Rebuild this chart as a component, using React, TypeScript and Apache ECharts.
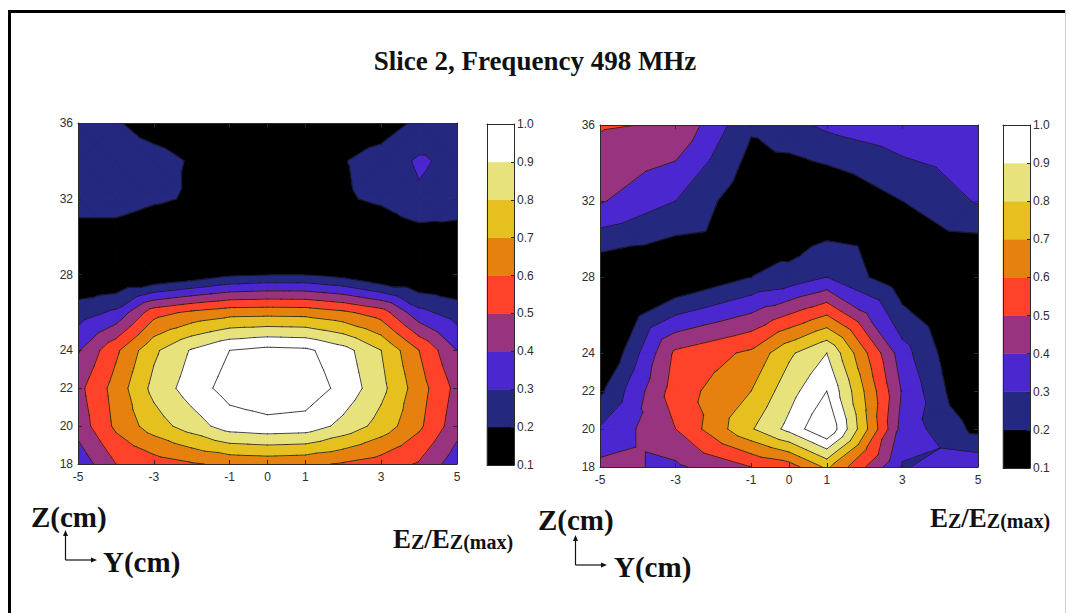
import React, { useEffect, useRef } from "react";
import * as echarts from "echarts";

// ---------------- data ----------------
// contour levels (colour-bar boundaries) and band colours (from lowest band up)
const LEVELS = [0.1, 0.2, 0.3, 0.4, 0.5, 0.6, 0.7, 0.8, 0.9, 1.0];
const BAND_COLORS = [
  "#000000",
  "#25287f",
  "#4a27cf",
  "#98347f",
  "#ff4229",
  "#e6800e",
  "#e5c01f",
  "#e8e27c",
  "#ffffff",
];

// tick labels of the two contour plots
const Y_CM_TICKS = [-5, -3, -1, 0, 1, 3, 5];
const Z_CM_TICKS = [18, 20, 22, 24, 28, 32, 36];

// left plot: Ez/Ez(max) on a Y(cm) x Z(cm) grid (rows = Z, columns = Y)
const LEFT_Y_CM = [-5, -4, -3, -2, -1, 0, 1, 2, 3, 4, 5];
const LEFT_Z_CM = [18, 20, 22, 24, 26, 28, 30, 32, 34, 36];
const LEFT_EZ = [
  [0.33, 0.5, 0.55, 0.59, 0.62, 0.63, 0.62, 0.59, 0.55, 0.49, 0.34],
  [0.44, 0.62, 0.75, 0.85, 0.95, 0.97, 0.96, 0.87, 0.76, 0.62, 0.44],
  [0.47, 0.64, 0.83, 0.95, 1.04, 1.07, 1.06, 0.97, 0.83, 0.645, 0.47],
  [0.39, 0.58, 0.78, 0.91, 1.0, 1.03, 1.02, 0.94, 0.8, 0.6, 0.4],
  [0.25, 0.32, 0.56, 0.62, 0.66, 0.665, 0.66, 0.62, 0.55, 0.33, 0.25],
  [0.1, 0.08, 0.07, 0.12, 0.18, 0.2, 0.2, 0.16, 0.08, 0.08, 0.1],
  [0.16, 0.15, 0.12, 0.12, 0.11, 0.11, 0.11, 0.12, 0.13, 0.15, 0.16],
  [0.24, 0.25, 0.215, 0.19, 0.13, 0.11, 0.14, 0.19, 0.215, 0.285, 0.25],
  [0.26, 0.26, 0.24, 0.19, 0.13, 0.11, 0.13, 0.195, 0.24, 0.315, 0.27],
  [0.25, 0.21, 0.15, 0.13, 0.11, 0.11, 0.12, 0.14, 0.15, 0.22, 0.26],
];

// right plot: measured grid
const RIGHT_Y_CM = [-5, -3, -1, 0, 1, 3, 5];
const RIGHT_Z_CM = [18, 20, 22, 24, 28, 32, 36];
const RIGHT_EZ = [
  [0.43, 0.38, 0.5, 0.55, 0.72, 0.29, 0.38],
  [0.31, 0.5, 0.79, 0.93, 1.1, 0.36, 0.17],
  [0.18, 0.55, 0.7, 0.86, 1.0, 0.39, 0.06],
  [0.06, 0.52, 0.62, 0.78, 0.9, 0.34, 0.04],
  [0.1, 0.08, 0.2, 0.23, 0.3, 0.12, 0.05],
  [0.41, 0.3, 0.12, 0.08, 0.09, 0.2, 0.31],
  [0.51, 0.49, 0.215, 0.27, 0.32, 0.37, 0.37],
];

// ---------------- helpers ----------------
type P = { x: number; y: number; v: number };

function clipPoly(poly: P[], level: number, above: boolean): P[] {
  const out: P[] = [];
  for (let i = 0; i < poly.length; i++) {
    const p = poly[i];
    const q = poly[(i + 1) % poly.length];
    const pin = above ? p.v >= level : p.v <= level;
    const qin = above ? q.v >= level : q.v <= level;
    if (pin) out.push(p);
    if (pin !== qin) {
      const t = (level - p.v) / (q.v - p.v);
      out.push({ x: p.x + t * (q.x - p.x), y: p.y + t * (q.y - p.y), v: level });
    }
  }
  return out;
}

function cellsOf(xs: number[], ys: number[]) {
  const out: number[][] = [];
  for (let j = 0; j < ys.length - 1; j++)
    for (let i = 0; i < xs.length - 1; i++)
      out.push([(xs[i] + xs[i + 1]) / 2, (ys[j] + ys[j + 1]) / 2, i, j]);
  return out;
}

function cellTriangles(api: any, xs: number[], ys: number[], zs: number[][]) {
  const i = api.value(2);
  const j = api.value(3);
  const c = (a: number, b: number): P => {
    const p = api.coord([xs[a], ys[b]]);
    return { x: p[0], y: p[1], v: zs[b][a] };
  };
  const p00 = c(i, j);
  const p10 = c(i + 1, j);
  const p11 = c(i + 1, j + 1);
  const p01 = c(i, j + 1);
  const pc: P = {
    x: (p00.x + p11.x) / 2,
    y: (p00.y + p11.y) / 2,
    v: (p00.v + p10.v + p11.v + p01.v) / 4,
  };
  return [
    [p00, p10, pc],
    [p10, p11, pc],
    [p11, p01, pc],
    [p01, p00, pc],
  ];
}

function fillRenderer(xs: number[], ys: number[], zs: number[][]) {
  return (_params: any, api: any) => {
    const tris = cellTriangles(api, xs, ys, zs);
    const children: any[] = [];
    const nb = BAND_COLORS.length;
    for (const t of tris) {
      for (let k = 0; k < nb; k++) {
        let poly: P[] = t;
        if (k > 0) poly = clipPoly(poly, LEVELS[k], true);
        if (poly.length >= 3 && k < nb - 1) poly = clipPoly(poly, LEVELS[k + 1], false);
        if (poly.length >= 3) {
          children.push({
            type: "polygon",
            shape: { points: poly.map((p) => [p.x, p.y]) },
            style: { fill: BAND_COLORS[k], stroke: BAND_COLORS[k], lineWidth: 1.2, lineJoin: "round" },
          });
        }
      }
    }
    return { type: "group", children };
  };
}

function lineRenderer(xs: number[], ys: number[], zs: number[][]) {
  const lineLevels = LEVELS.slice(1);
  return (_params: any, api: any) => {
    const tris = cellTriangles(api, xs, ys, zs);
    const children: any[] = [];
    for (const t of tris) {
      for (const L of lineLevels) {
        const pts: number[][] = [];
        for (let e = 0; e < 3; e++) {
          const a = t[e];
          const b = t[(e + 1) % 3];
          if (a.v >= L !== b.v >= L) {
            const s = (L - a.v) / (b.v - a.v);
            pts.push([a.x + s * (b.x - a.x), a.y + s * (b.y - a.y)]);
          }
        }
        if (pts.length === 2) {
          children.push({
            type: "line",
            shape: { x1: pts[0][0], y1: pts[0][1], x2: pts[1][0], y2: pts[1][1] },
            style: { stroke: "#141414", lineWidth: 0.8, lineCap: "round" },
          });
        }
      }
    }
    return { type: "group", children };
  };
}

const BANDS = BAND_COLORS.map((_, k) => [0.5, (LEVELS[k] + LEVELS[k + 1]) / 2, LEVELS[k], LEVELS[k + 1], k]);

function colorbarRenderer(_params: any, api: any) {
  const a = api.coord([0, api.value(2)]);
  const b = api.coord([1, api.value(3)]);
  const col = BAND_COLORS[api.value(4)];
  return {
    type: "rect",
    shape: { x: a[0], y: b[1], width: b[0] - a[0], height: a[1] - b[1] },
    style: { fill: col, stroke: col, lineWidth: 0.5 },
  };
}

// ---------------- axes ----------------
const AXIS_COLOR = "#2a2a2a";
const LABEL_STYLE = { fontFamily: "Liberation Sans, Arial, sans-serif", fontSize: 12, color: "#2e2e2e" };

function tick(values: number[] | null, len = 4) {
  return values
    ? { show: true, inside: true, length: len, customValues: values, lineStyle: { color: AXIS_COLOR, width: 1 } }
    : { show: false };
}

function axisBase(gridIndex: number, min: number, max: number) {
  return {
    type: "value",
    gridIndex,
    min,
    max,
    z: 10,
    splitLine: { show: false },
    axisLine: { show: true, onZero: false, lineStyle: { color: AXIS_COLOR, width: 1 } },
  };
}

const xAxes: any[] = [];
const yAxes: any[] = [];
// grids 0 and 1: contour plots
for (const g of [0, 1]) {
  xAxes.push({
    ...axisBase(g, -5, 5),
    position: "bottom",
    axisTick: tick(Y_CM_TICKS),
    axisLabel: { show: true, customValues: Y_CM_TICKS, margin: 7, ...LABEL_STYLE },
  });
  xAxes.push({ ...axisBase(g, -5, 5), position: "top", axisTick: tick(Y_CM_TICKS), axisLabel: { show: false } });
  yAxes.push({
    ...axisBase(g, 18, 36),
    position: "left",
    axisTick: tick(Z_CM_TICKS),
    axisLabel: { show: true, customValues: Z_CM_TICKS, margin: 5, ...LABEL_STYLE },
  });
  yAxes.push({ ...axisBase(g, 18, 36), position: "right", axisTick: tick(Z_CM_TICKS), axisLabel: { show: false } });
}
// grids 2 and 3: colour bars
for (const g of [2, 3]) {
  xAxes.push({ ...axisBase(g, 0, 1), position: "bottom", axisTick: { show: false }, axisLabel: { show: false } });
  xAxes.push({ ...axisBase(g, 0, 1), position: "top", axisTick: { show: false }, axisLabel: { show: false } });
  yAxes.push({ ...axisBase(g, 0.1, 1.0), position: "left", axisTick: { show: false }, axisLabel: { show: false } });
  yAxes.push({
    ...axisBase(g, 0.1, 1.0),
    position: "right",
    axisTick: tick(LEVELS, 3),
    axisLabel: {
      show: true,
      customValues: LEVELS,
      margin: 3,
      formatter: (v: number) => v.toFixed(1),
      ...LABEL_STYLE,
    },
  });
}

// ---------------- annotations ----------------
const SERIF = "Liberation Serif, Times New Roman, serif";

function axesGlyph(x0: number, zTop: number, cornerY: number, yEnd: number, zLabelX: number, zLabelY: number, yLabelX: number, yLabelY: number) {
  return [
    { type: "text", x: zLabelX, y: zLabelY, style: { text: "Z(cm)", fontFamily: SERIF, fontWeight: "bold", fontSize: 29, fill: "#111", align: "left", verticalAlign: "middle" } },
    { type: "line", shape: { x1: x0, y1: cornerY, x2: x0, y2: zTop + 5 }, style: { stroke: "#111", lineWidth: 1.2 } },
    { type: "polygon", shape: { points: [[x0 - 2.5, zTop + 6], [x0 + 2.5, zTop + 6], [x0, zTop]] }, style: { fill: "#111" } },
    { type: "line", shape: { x1: x0, y1: cornerY, x2: yEnd - 5, y2: cornerY }, style: { stroke: "#111", lineWidth: 1.2 } },
    { type: "polygon", shape: { points: [[yEnd - 6, cornerY - 2.5], [yEnd - 6, cornerY + 2.5], [yEnd, cornerY]] }, style: { fill: "#111" } },
    { type: "text", x: yLabelX, y: yLabelY, style: { text: "Y(cm)", fontFamily: SERIF, fontWeight: "bold", fontSize: 29, fill: "#111", align: "left", verticalAlign: "middle" } },
  ];
}

function ezLabel(x: number, y: number) {
  return {
    type: "text",
    x,
    y,
    style: {
      text: "{a|E}{b|Z}{a|/E}{b|Z(max)}",
      align: "left",
      verticalAlign: "middle",
      rich: {
        a: { fontFamily: SERIF, fontWeight: "bold", fontSize: 27, fill: "#111", lineHeight: 30, verticalAlign: "bottom" },
        b: { fontFamily: SERIF, fontWeight: "bold", fontSize: 20, fill: "#111", lineHeight: 22, verticalAlign: "bottom" },
      },
    },
  };
}

const option: any = {
  animation: false,
  backgroundColor: "#ffffff",
  grid: [
    { left: 78, top: 123, width: 379, height: 341, containLabel: false, outerBoundsMode: "none" },
    { left: 600, top: 125, width: 378, height: 342, containLabel: false, outerBoundsMode: "none" },
    { left: 487, top: 124, width: 27, height: 341, containLabel: false, outerBoundsMode: "none" },
    { left: 1003, top: 125, width: 27, height: 343, containLabel: false, outerBoundsMode: "none" },
  ],
  xAxis: xAxes,
  yAxis: yAxes,
  series: [
    { type: "custom", xAxisIndex: 0, yAxisIndex: 0, data: cellsOf(LEFT_Y_CM, LEFT_Z_CM), encode: { x: 0, y: 1 }, renderItem: fillRenderer(LEFT_Y_CM, LEFT_Z_CM, LEFT_EZ), clip: true, silent: true, z: 2 },
    { type: "custom", xAxisIndex: 0, yAxisIndex: 0, data: cellsOf(LEFT_Y_CM, LEFT_Z_CM), encode: { x: 0, y: 1 }, renderItem: lineRenderer(LEFT_Y_CM, LEFT_Z_CM, LEFT_EZ), clip: true, silent: true, z: 3 },
    { type: "custom", xAxisIndex: 2, yAxisIndex: 2, data: cellsOf(RIGHT_Y_CM, RIGHT_Z_CM), encode: { x: 0, y: 1 }, renderItem: fillRenderer(RIGHT_Y_CM, RIGHT_Z_CM, RIGHT_EZ), clip: true, silent: true, z: 2 },
    { type: "custom", xAxisIndex: 2, yAxisIndex: 2, data: cellsOf(RIGHT_Y_CM, RIGHT_Z_CM), encode: { x: 0, y: 1 }, renderItem: lineRenderer(RIGHT_Y_CM, RIGHT_Z_CM, RIGHT_EZ), clip: true, silent: true, z: 3 },
    { type: "custom", xAxisIndex: 4, yAxisIndex: 4, data: BANDS, encode: { x: 0, y: 1 }, renderItem: colorbarRenderer, silent: true, z: 2 },
    { type: "custom", xAxisIndex: 6, yAxisIndex: 6, data: BANDS, encode: { x: 0, y: 1 }, renderItem: colorbarRenderer, silent: true, z: 2 },
  ],
  graphic: [
    { type: "line", shape: { x1: 9.5, y1: 10, x2: 9.5, y2: 613 }, style: { stroke: "#000", lineWidth: 3 } },
    { type: "line", shape: { x1: 8, y1: 11.5, x2: 1066, y2: 11.5 }, style: { stroke: "#000", lineWidth: 3 } },
    { type: "line", shape: { x1: 1065.5, y1: 10, x2: 1065.5, y2: 613 }, style: { stroke: "#cfcfcf", lineWidth: 1 } },
    {
      type: "text",
      x: 535,
      y: 61,
      style: { text: "Slice 2, Frequency 498 MHz", fontFamily: SERIF, fontWeight: "bold", fontSize: 27, fill: "#111", align: "center", verticalAlign: "middle" },
    },
    ...axesGlyph(65.5, 530, 560, 97, 31, 517, 103, 562),
    ezLabel(393, 537),
    ...axesGlyph(575.5, 535, 565, 607, 538, 520, 614, 567),
    ezLabel(930, 516),
  ],
};

export default function App() {
  const ref = useRef<HTMLDivElement>(null);
  useEffect(() => {
    if (!ref.current) return;
    const chart = echarts.init(ref.current, null, { renderer: "svg" });
    chart.setOption(option);
    return () => chart.dispose();
  }, []);
  return (
    <div
      ref={ref}
      style={{ position: "absolute", left: 0, top: 0, width: 1070, height: 613, background: "#fff" }}
    />
  );
}
